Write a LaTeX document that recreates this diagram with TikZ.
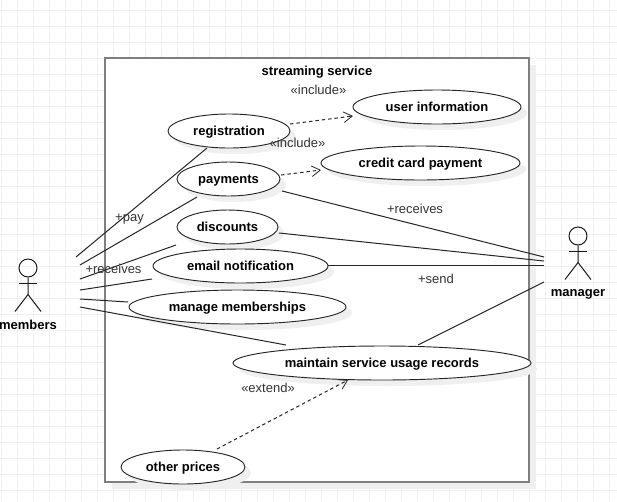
\documentclass[tikz,border=0pt]{standalone}
\usepackage{fontspec}
\setmainfont{Liberation Sans}
\usetikzlibrary{shapes.geometric,shadows,arrows.meta}
\definecolor{gridc}{HTML}{F0F0F0}
\definecolor{shadowc}{HTML}{EFEFEF}
\definecolor{boxc}{HTML}{7F7F7F}
\definecolor{labelc}{HTML}{333333}
\tikzset{
  gridline/.style={gridc,line width=0.75pt},
  sysbox/.style={draw=boxc,line width=1.3pt,fill=white,general shadow={shadow xshift=5pt,shadow yshift=-5pt,fill=shadowc,draw=none}},
  usecase/.style={ellipse,draw=black!85,line width=0.7pt,fill=white,inner sep=0pt,font=\fontsize{9.75pt}{11pt}\selectfont\bfseries,text depth=0pt,
    general shadow={shadow xshift=4.5pt,shadow yshift=-4.5pt,fill=shadowc,draw=none}},
  assoc/.style={black!85,line width=0.75pt},
  dep/.style={black!85,line width=0.75pt,dash pattern=on 2.6pt off 2.2pt,-{Straight Barb[length=6.5pt,width=8pt,line width=0.6pt]}},
  lbl/.style={inner sep=0pt,text=labelc,font=\fontsize{9.75pt}{11pt}\selectfont},
  title/.style={inner sep=0pt,font=\fontsize{9.75pt}{11pt}\selectfont\bfseries},
  limb/.style={black!90,line width=0.75pt},
}
\newcommand{\ucase}[6]{\node[usecase,minimum width=#4*0.75pt,minimum height=#5*0.75pt] (#1) at (#2,#3) {#6};}
\newcommand{\stick}[3]{% name, head x, head y
  \node[circle,draw=black!90,line width=0.75pt,inner sep=0pt,minimum size=13.5pt] (#1) at (#2,#3) {};
  \draw[limb] (#1.south) -- ++(0,17) coordinate (#1hip) -- ++(-13,17);
  \draw[limb] (#1hip) -- ++(13,17);
  \draw[limb] ([xshift=-6.75pt,yshift=-11.25pt]#1.center) -- ++(18,0);
}
\begin{document}
\begin{tikzpicture}[x=0.75pt,y=-0.75pt]
\useasboundingbox (0,0) rectangle (617,501);
\fill[white] (0,0) rectangle (617,501);
\foreach \gx in {1,17,...,609} \draw[gridline] (\gx,0) -- (\gx,501);
\foreach \gy in {10,26,...,490} \draw[gridline] (0,\gy) -- (617,\gy);

\node[sysbox,rectangle,minimum width=318pt,minimum height=318pt,inner sep=0pt] (sys) at (317,270) {};
\node[title] (systitle) at (317,72) {streaming service};

\coordinate (mA) at (76,257);
\coordinate (mB) at (80,265);
\coordinate (mC) at (80,279);
\coordinate (mD) at (80,290);
\coordinate (mE) at (80,299);
\coordinate (mF) at (80,307);
\coordinate (gA) at (544,257);
\coordinate (gB) at (544,261);
\coordinate (gC) at (544,265);
\coordinate (gD) at (544,282);
\coordinate (regS) at (207,148);
\coordinate (payW) at (197,197);
\coordinate (disW) at (176,245);
\coordinate (emaW) at (152,279);
\coordinate (manW) at (128,302);
\coordinate (maiW) at (286,345);
\coordinate (payE) at (282,191);
\coordinate (disE) at (279,233);
\coordinate (emaE) at (328,265);
\coordinate (maiN) at (418,345);
\coordinate (regE) at (290,124);
\coordinate (uinW) at (353,116);
\coordinate (payD) at (281,175);
\coordinate (ccdW) at (321,170);
\coordinate (othN) at (217,449);
\coordinate (maiS) at (348,380);

\ucase{reg}{229}{131}{122}{34}{registration}
\ucase{pay}{228.5}{179}{103}{34}{payments}
\ucase{dis}{227.5}{227}{101}{34}{discounts}
\ucase{ema}{240.5}{266}{175}{34}{email notification}
\ucase{man}{237.5}{307}{217}{34}{manage memberships}
\ucase{mai}{382}{363}{298}{34}{maintain service usage records}
\ucase{oth}{183}{467}{124}{34}{other prices}
\ucase{uin}{437}{107}{168}{34}{user information}
\ucase{ccd}{420.5}{163}{199}{34}{credit card payment}

\draw[assoc] (mA) -- (regS);
\draw[assoc] (mB) -- (payW);
\draw[assoc] (mC) -- (disW);
\draw[assoc] (mD) -- (emaW);
\draw[assoc] (mE) -- (manW);
\draw[assoc] (mF) -- (maiW);
\draw[assoc] (payE) -- (gA);
\draw[assoc] (disE) -- (gB);
\draw[assoc] (emaE) -- (gC);
\draw[assoc] (maiN) -- (gD);
\draw[dep] (regE) -- (uinW);
\draw[dep] (payD) -- (ccdW);
\draw[dep] (othN) -- (maiS);

\node[lbl] (l1) at (318.5,90) {«include»};
\node[lbl] (l2) at (297.5,143) {«include»};
\node[lbl] (l3) at (129.5,219.5) {+pay};
\node[lbl] (l4) at (113.5,269) {+receives};
\node[lbl] (l5) at (415,209) {+receives};
\node[lbl] (l6) at (436,279) {+send};
\node[lbl] (l7) at (268,388) {«extend»};

\stick{memb}{28}{268}
\node[title] (membl) at (28,324.5) {members};
\stick{mgr}{578}{236}
\node[title] (mgrl) at (578,294.5) {manager};
\end{tikzpicture}
\end{document}
